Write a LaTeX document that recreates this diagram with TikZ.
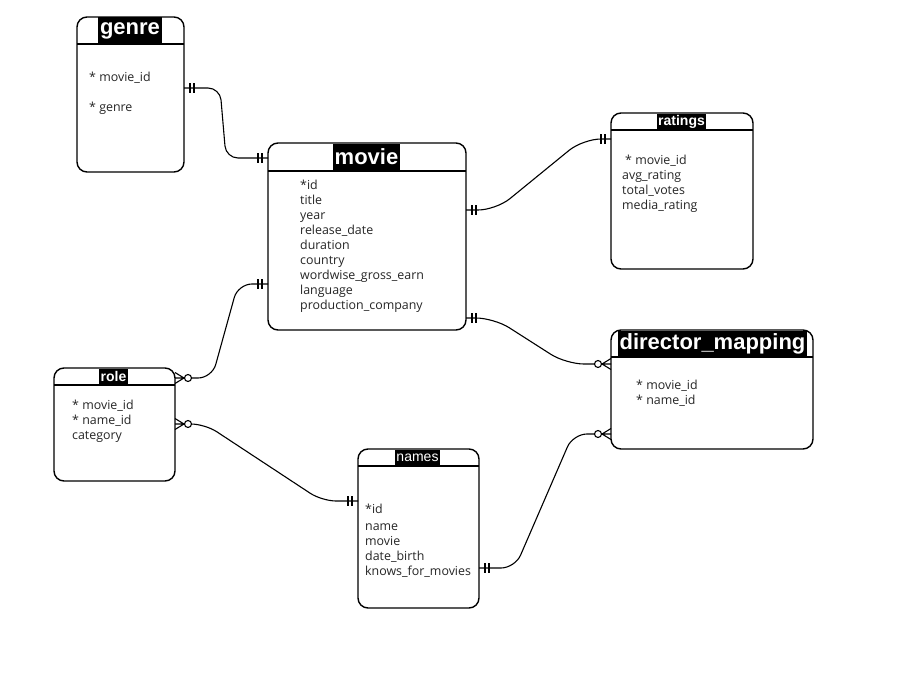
\documentclass[tikz,border=0pt]{standalone}
\usepackage{fontspec}
\setmainfont{Open Sans}
\newfontfamily\hdfont{Liberation Sans}
\usetikzlibrary{calc}
\begin{document}
\begin{tikzpicture}[x=1pt,y=-1pt,
  entity/.style={draw, line width=1.4pt, rounded corners=10pt, inner sep=0pt, outer sep=0pt, anchor=north west},
  hline/.style={line width=1.4pt},
  titlebig/.style={fill=black, text=white, font=\hdfont\bfseries\fontsize{22}{22}\selectfont, minimum height=26pt, inner xsep=2pt, inner ysep=0pt},
  titlesmall/.style={fill=black, text=white, font=\hdfont\bfseries\fontsize{14}{14}\selectfont, minimum height=15pt, inner xsep=1.5pt, inner ysep=0pt},
  titlesmallreg/.style={titlesmall, font=\hdfont\fontsize{14}{14}\selectfont},
  fields/.style={anchor=north west, align=left, inner sep=0pt, text=black!85, font=\fontsize{12.4}{15}\selectfont},
  conn/.style={line width=1.1pt, rounded corners=14pt},
  erone/.pic={\draw[line width=1.1pt] (6,-5) -- (6,5) (10,-5) -- (10,5);},
  ermany/.pic={\draw[line width=1.1pt] (0,-5.5) -- (9,0) -- (0,5.5) (0,0) -- (9,0);
               \draw[line width=1.1pt, fill=white] (13,0) circle (3.5pt);}
]
\fill[white] (0,0) rectangle (902,677);
\useasboundingbox (0,0) rectangle (902,677);

% entities
\node[entity, minimum width=107pt, minimum height=155pt] (genre) at (77,17) {};
\node[entity, minimum width=198pt, minimum height=187pt] (movie) at (268,143) {};
\node[entity, minimum width=142pt, minimum height=156pt] (ratings) at (611,113) {};
\node[entity, minimum width=202pt, minimum height=119pt] (director) at (611,330) {};
\node[entity, minimum width=121pt, minimum height=113pt] (role) at (54,368) {};
\node[entity, minimum width=121pt, minimum height=159pt] (names) at (358,449) {};

% header lines
\draw[hline] ([yshift=-27pt]genre.north west) -- ([yshift=-27pt]genre.north east);
\draw[hline] ([yshift=-28pt]movie.north west) -- ([yshift=-28pt]movie.north east);
\draw[hline] ([yshift=-17pt]ratings.north west) -- ([yshift=-17pt]ratings.north east);
\draw[hline] ([yshift=-27pt]director.north west) -- ([yshift=-27pt]director.north east);
\draw[hline] ([yshift=-17pt]role.north west) -- ([yshift=-17pt]role.north east);
\draw[hline] ([yshift=-17pt]names.north west) -- ([yshift=-17pt]names.north east);

% titles
\node[titlebig] (genreT) at (130,30.5) {genre};
\node[titlebig] (movieT) at (366.5,157) {movie};
\node[titlebig] (directorT) at (712.5,343.5) {director\_mapping};
\node[titlesmall] (ratingsT) at (681.5,121.5) {ratings};
\node[titlesmall] (roleT) at (113.5,376.5) {role};
\node[titlesmallreg] (namesT) at (417.5,457.5) {names};

% fields
\node[fields] (genreF) at (89,72.2) {* movie\_id\\[15pt]* genre};
\node[fields] (movieF) at (300,180.2) {*id\\title\\year\\release\_date\\duration\\country\\wordwise\_gross\_earn\\language\\production\_company};
\node[fields] (ratingsF) at (622,155.2) {\hspace*{3pt}* movie\_id\\avg\_rating\\total\_votes\\media\_rating};
\node[fields] (directorF) at (636,380.2) {* movie\_id\\* name\_id};
\node[fields] (roleF) at (72,400.2) {* movie\_id\\* name\_id\\category};
\node[fields] (namesF) at (365,504.2) {*id\\[2pt]name\\movie\\date\_birth\\knows\_for\_movies};

% connection points
\coordinate (g1) at ([yshift=-71pt]genre.north east);
\coordinate (m1) at ([yshift=-15pt]movie.north west);
\coordinate (m2) at ([yshift=-67pt]movie.north east);
\coordinate (ra) at ([yshift=-26pt]ratings.north west);
\coordinate (m3) at ([yshift=-175pt]movie.north east);
\coordinate (d1) at ([yshift=-34pt]director.north west);
\coordinate (m4) at ([yshift=-141pt]movie.north west);
\coordinate (r1) at ([yshift=-10pt]role.north east);
\coordinate (r2) at ([yshift=-56pt]role.north east);
\coordinate (n1) at ([yshift=-52pt]names.north west);
\coordinate (n2) at ([yshift=-119pt]names.north east);
\coordinate (d2) at ([yshift=-104pt]director.north west);

% connectors
\draw[conn, rounded corners=12pt] (g1) -- ++(36,0) -- ($(m1)+(-42,0)$) -- (m1);
\draw[conn, rounded corners=18pt] (m2) -- ++(30,0) -- ($(ra)+(-28,0)$) -- (ra);
\draw[conn, rounded corners=18pt] (m3) -- ++(28,0) -- ($(d1)+(-45,0)$) -- ($(d1)+(-16.5,0)$);
\draw[conn] (m4) -- ++(-30,0) -- ($(r1)+(37,0)$) -- ($(r1)+(16.5,0)$);
\draw[conn] ($(r2)+(16.5,0)$) -- ($(r2)+(30,0)$) -- ($(n1)+(-36,0)$) -- (n1);
\draw[conn] (n2) -- ++(36,0) -- ($(d2)+(-38,0)$) -- ($(d2)+(-16.5,0)$);

% cardinality marks
\pic at (g1) {erone};
\pic[xscale=-1] at (m1) {erone};
\pic at (m2) {erone};
\pic[xscale=-1] at (ra) {erone};
\pic at (m3) {erone};
\pic[xscale=-1] at (d1) {ermany};
\pic[xscale=-1] at (m4) {erone};
\pic at (r1) {ermany};
\pic at (r2) {ermany};
\pic[xscale=-1] at (n1) {erone};
\pic at (n2) {erone};
\pic[xscale=-1] at (d2) {ermany};
\end{tikzpicture}
\end{document}
